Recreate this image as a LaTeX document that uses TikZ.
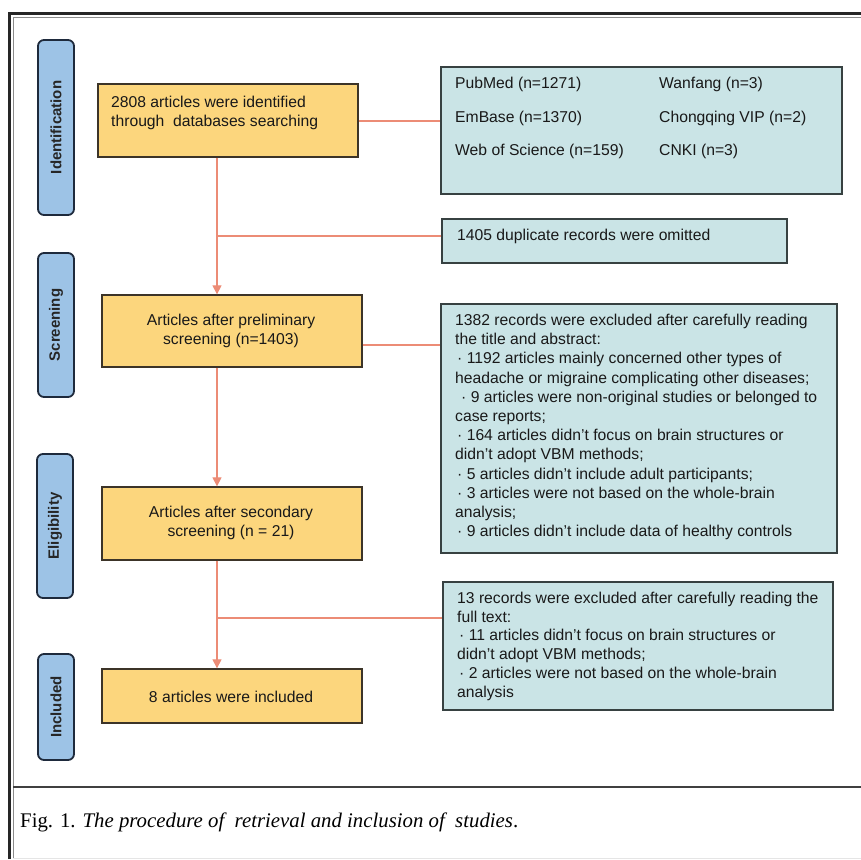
\documentclass[tikz,border=0pt]{standalone}
\usepackage{fontspec}
\setmainfont{Liberation Serif}
\newfontfamily\arial{Liberation Sans}
\usetikzlibrary{arrows.meta}
\definecolor{yfill}{RGB}{252,214,125}
\definecolor{ybord}{RGB}{60,52,40}
\definecolor{tfill}{RGB}{202,228,230}
\definecolor{tbord}{RGB}{55,65,65}
\definecolor{sfill}{RGB}{157,195,230}
\definecolor{sbord}{RGB}{30,42,60}
\definecolor{lcol}{RGB}{236,140,118}
\begin{document}
\begin{tikzpicture}[x=1pt,y=-1pt,
  ybox/.style={draw=ybord, fill=yfill, line width=1.3pt, inner sep=0pt},
  tbox/.style={draw=tbord, fill=tfill, line width=1.3pt, inner sep=0pt},
  stage/.style={draw=sbord, fill=sfill, line width=1.8pt, rounded corners=6pt, inner sep=0pt, rotate=90,
     minimum height=36pt, text=black!85, font=\arial\bfseries\fontsize{15}{17}\selectfont},
  txt/.style={inner sep=0pt, text=black!90, font=\arial\fontsize{15.7}{19.2}\selectfont},
  conn/.style={draw=lcol, line width=1.1pt},
  arr/.style={conn, -{Triangle[width=9pt,length=9pt]}}
]
\useasboundingbox (0,0) rectangle (861,859);
% frame
\draw[line width=3pt, black!85] (9.5,859) -- (9.5,14) -- (861,14);
\draw[line width=1.2pt, black!45] (13.3,859) -- (13.3,17.7) -- (861,17.7);
\draw[line width=2pt, black!75] (13.3,787) -- (861,787);
\draw[line width=1pt, black!10] (13.3,858) -- (861,858);

% stage labels
\node[stage, minimum width=175pt] (sid) at (56,127.5) {Identification};
\node[stage, minimum width=144pt] (ssc) at (56,325) {Screening};
\node[stage, minimum width=144pt] (sel) at (55,526) {Eligibility};
\node[stage, minimum width=106pt] (sin) at (56,707) {Included};

% boxes
\node[ybox, minimum width=260pt, minimum height=73pt] (b1) at (228,120.5) {};
\node[tbox, minimum width=401pt, minimum height=127pt] (db) at (641.5,130.5) {};
\node[tbox, minimum width=345pt, minimum height=44pt] (dup) at (614.5,241) {};
\node[ybox, minimum width=260pt, minimum height=72pt] (b2) at (232,331) {};
\node[tbox, minimum width=396pt, minimum height=249pt] (ex) at (639,428.5) {};
\node[ybox, minimum width=260pt, minimum height=73pt] (b3) at (232,523.5) {};
\node[tbox, minimum width=390pt, minimum height=128pt] (ex2) at (638,646) {};
\node[ybox, minimum width=260pt, minimum height=54pt] (b4) at (232,696) {};

% texts
\node[txt, anchor=north west, align=left] (t1) at (111,96) {2808 articles were identified\\through\ \ databases searching};
\node[txt, anchor=west] (tdb1) at (455,84) {PubMed (n=1271)};
\node[txt, anchor=west] (tdb2) at (455,118) {EmBase (n=1370)};
\node[txt, anchor=west] (tdb3) at (455,151) {Web of Science (n=159)};
\node[txt, anchor=west] (tdb4) at (659,84) {Wanfang (n=3)};
\node[txt, anchor=west] (tdb5) at (659,118) {Chongqing VIP (n=2)};
\node[txt, anchor=west] (tdb6) at (659,151) {CNKI (n=3)};
\node[txt, anchor=west] (tdup) at (457,236) {1405 duplicate records were omitted};
\node[txt, align=center] (t2) at (231,331) {Articles after preliminary\\screening (n=1403)};
\node[txt, anchor=north west, align=left] (tex) at (455,314) {1382 records were excluded after carefully reading\\
the title and abstract:\\
\hspace*{2pt}· 1192 articles mainly concerned other types of\\
headache or migraine complicating other diseases;\\
\hspace*{6pt}· 9 articles were non-original studies or belonged to\\
case reports;\\
\hspace*{2pt}· 164 articles didn’t focus on brain structures or\\
didn’t adopt VBM methods;\\
\hspace*{2pt}· 5 articles didn’t include adult participants;\\
\hspace*{2pt}· 3 articles were not based on the whole-brain\\
analysis;\\
\hspace*{2pt}· 9 articles didn’t include data of healthy controls};
\node[txt, align=center] (t3) at (231,523) {Articles after secondary\\screening (n = 21)};
\node[txt, anchor=north west, align=left, font=\arial\fontsize{15.7}{18.7}\selectfont] (tex2) at (457,592) {13 records were excluded after carefully reading the\\
full text:\\
\hspace*{2pt}· 11 articles didn’t focus on brain structures or\\
didn’t adopt VBM methods;\\
\hspace*{2pt}· 2 articles were not based on the whole-brain\\
analysis};
\node[txt] (t4) at (231,697) {8 articles were included};

% connectors
\coordinate (vx) at (217,0);
\coordinate (j1) at (217,236);
\coordinate (j2) at (217,618);
\draw[conn] (b1.east |- 0,121) -- (db.west |- 0,121);
\draw[arr] (b1.south -| vx) -- (b2.north -| vx);
\draw[conn] (j1) -- (dup.west |- j1);
\draw[conn] (b2.east |- 0,345) -- (ex.west |- 0,345);
\draw[arr] (b2.south -| vx) -- (b3.north -| vx);
\draw[arr] (b3.south -| vx) -- (b4.north -| vx);
\draw[conn] (j2) -- (ex2.west |- j2);

% caption
\node[anchor=base west, inner sep=0pt, font=\fontsize{20.8}{23}\selectfont] (cap) at (20,827) {Fig. 1. \textit{The procedure of\ \ retrieval and inclusion of\ \ studies}.};
\end{tikzpicture}
\end{document}
